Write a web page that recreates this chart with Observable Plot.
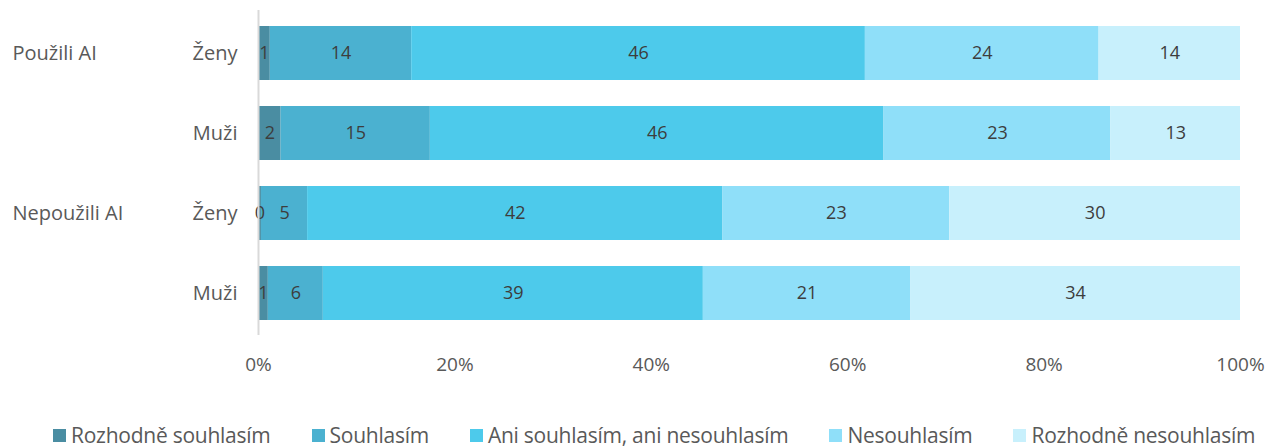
<!DOCTYPE html>
<html><head><meta charset="utf-8">
<script src="https://cdn.jsdelivr.net/npm/d3@7"></script>
<script src="https://cdn.jsdelivr.net/npm/@observablehq/plot@0.6"></script>
<style>
body{margin:0;background:#fff;font-family:"Open Sans",sans-serif;}
#legend{display:flex;gap:41px;padding-left:53px;padding-top:24px;line-height:22px;font-size:21px;color:#595959;letter-spacing:-0.25px;}
#legend .item{display:flex;align-items:center;white-space:nowrap;}
#legend .sw{width:13px;height:13px;margin-right:5px;display:inline-block;}
</style></head><body><div id="chart"></div><div id="legend"></div>
<script>
const groups = ["Použili AI","Použili AI","Nepoužili AI","Nepoužili AI"];
const genders = ["Ženy","Muži","Ženy","Muži"];
const answers = ["Rozhodně souhlasím","Souhlasím","Ani souhlasím, ani nesouhlasím","Nesouhlasím","Rozhodně nesouhlasím"];
const colors = ["#4a8da2","#4bb1d0","#4dcaeb","#8fdff9","#c8f0fc"];
const rozhodneSouhlasim = [1.2, 2.3, 0.3, 1.0];
const souhlasim = [14.4, 15.2, 4.7, 5.6];
const ani = [46.2, 46.2, 42.3, 38.7];
const nesouhlasim = [23.8, 23.1, 23.1, 21.1];
const rozhodneNesouhlasim = [14.4, 13.2, 29.6, 33.6];
const xTicks = [0, 20, 40, 60, 80, 100];

const series = [rozhodneSouhlasim, souhlasim, ani, nesouhlasim, rozhodneNesouhlasim];
const keys = groups.map((g, i) => g + "|" + genders[i]);
const data = [];
keys.forEach((k, i) => series.forEach((s, j) => data.push({key: k, answer: answers[j], value: s[i]})));
const groupLabels = [...new Set(groups)].map(g => ({group: g, key: keys[groups.indexOf(g)]}));

const plot = Plot.plot({
  width: 1270, height: 400,
  marginLeft: 258, marginRight: 30, marginTop: 10, marginBottom: 65,
  style: {fontFamily: "Open Sans", fontSize: "19px", color: "#595959", background: "#fff"},
  x: {domain: [0, 100], ticks: xTicks, tickFormat: d => d + "%", tickSize: 0, tickPadding: 22, label: null},
  y: {domain: keys, paddingInner: 0.33, paddingOuter: 0.18, label: null},
  color: {domain: answers, range: colors},
  marks: [
    Plot.axisY({tickSize: 0, tickPadding: 21, tickFormat: k => k.split("|")[1], fontSize: 20, label: null}),
    Plot.barX(data, Plot.stackX({x: "value", y: "key", fill: "answer", order: answers})),
    Plot.text(data, Plot.stackX({x: "value", y: "key", z: "answer", order: answers, text: d => d3.format(".0f")(d.value), fill: "#3d3d3d", fontSize: 18})),
    Plot.ruleX([0], {stroke: "#d9d9d9", strokeWidth: 2}),
    Plot.text(groupLabels, {y: "key", text: "group", frameAnchor: "left", textAnchor: "start", dx: -246, fill: "#595959", fontSize: 20})
  ]
});
document.getElementById("chart").appendChild(plot);

const legend = document.getElementById("legend");
answers.forEach((a, i) => {
  const it = document.createElement("div");
  it.className = "item";
  it.innerHTML = `<span class="sw" style="background:${colors[i]}"></span><span>${a}</span>`;
  legend.appendChild(it);
});
</script></body></html>
